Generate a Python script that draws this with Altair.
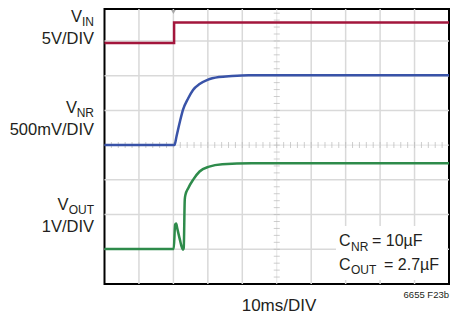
import altair as alt
import pandas as pd

# ---- data (scope divisions: x 0..10, y 0..8) ----
vin_t = [0, 2.02, 2.02, 10]
vin_v = [6.94, 6.94, 7.53, 7.53]

vnr_t = [0, 2.03, 2.09, 2.19, 2.28, 2.43, 2.57, 2.76, 2.99, 3.32, 3.70, 4.18, 10]
vnr_v = [4.0, 4.0, 4.25, 4.68, 5.02, 5.35, 5.59, 5.76, 5.88, 5.96, 5.99, 6.01, 6.01]

vout_t = [0, 2.01, 2.05, 2.08, 2.11, 2.19, 2.25, 2.28, 2.30, 2.33, 2.35, 2.43, 2.57, 2.76, 3.04, 3.42, 4.27, 10]
vout_v = [1.01, 1.01, 1.71, 1.74, 1.61, 1.27, 1.04, 0.99, 1.04, 2.43, 2.57, 2.76, 3.0, 3.24, 3.38, 3.45, 3.48, 3.48]

grid_x = [1, 2, 3, 4, 6, 7, 8, 9]
grid_y = [1, 2, 3, 5, 6, 7]
minor_x = [round(i * 0.2, 2) for i in range(1, 50)]
minor_y = [round(i * 0.2, 2) for i in range(1, 40)]

W, H = 344.5, 275
FONT = "Liberation Sans"

xs = alt.Scale(domain=[0, 10], nice=False, zero=False)
ys = alt.Scale(domain=[0, 7.92], nice=False, zero=False)


def X(f):
    return alt.X(f, type="quantitative", scale=xs, axis=None)


def Y(f):
    return alt.Y(f, type="quantitative", scale=ys, axis=None)


one = pd.DataFrame({"a": [0]})

gx = alt.Chart(pd.DataFrame({"x": grid_x})).mark_rule(color="#d9d9d9", strokeWidth=1.5).encode(x=X("x"))
gy = alt.Chart(pd.DataFrame({"y": grid_y})).mark_rule(color="#d9d9d9", strokeWidth=1.5).encode(y=Y("y"))
cx = alt.Chart(pd.DataFrame({"x": [5]})).mark_rule(color="#e4e4e4", strokeWidth=1).encode(x=X("x"))
cy = alt.Chart(pd.DataFrame({"y": [4]})).mark_rule(color="#e4e4e4", strokeWidth=1).encode(y=Y("y"))

tx = alt.Chart(pd.DataFrame({"x": minor_x, "c": [4] * len(minor_x)})).mark_tick(
    orient="vertical", size=6, thickness=1, color="#b9b9b9").encode(x=X("x"), y=Y("c"))
ty = alt.Chart(pd.DataFrame({"y": minor_y, "c": [5] * len(minor_y)})).mark_tick(
    orient="horizontal", size=6, thickness=1, color="#b9b9b9").encode(y=Y("y"), x=X("c"))

trig = alt.Chart(pd.DataFrame({"x": [2]})).mark_point(
    shape="triangle-down", filled=True, color="#a8a8a8", size=22, opacity=1).encode(x=X("x"), y=alt.value(3))

box = alt.Chart(one).mark_rect(color="white").encode(
    x=alt.value(231.5), x2=alt.value(342.5), y=alt.value(217), y2=alt.value(271))


def trace(t, v, color, interp):
    df = pd.DataFrame({"t": t, "v": v, "o": list(range(len(t)))})
    return alt.Chart(df).mark_line(color=color, strokeWidth=2.5, interpolate=interp).encode(
        x=X("t"), y=Y("v"), order="o:Q")


l_in = trace(vin_t, vin_v, "#a3163c", "linear")
l_nr = trace(vnr_t, vnr_v, "#3953a8", "monotone")
l_out = trace(vout_t, vout_v, "#2e8b4b", "monotone")

OX, OY = 104.5, 9


def txt(s, px, py, size=16.5, align="right", color="#231f20"):
    return alt.Chart(one).mark_text(
        text=s, font=FONT, fontSize=size, align=align, baseline="alphabetic", color=color).encode(
        x=alt.value(px - OX), y=alt.value(py - OY))


labels = [
    txt("V", 82, 21.5), txt("IN", 94, 26, 12),
    txt("5V/DIV", 94, 44),
    txt("V", 77, 112.5), txt("NR", 94, 117, 12),
    txt("500mV/DIV", 94, 134.5),
    txt("V", 68.5, 209.5), txt("OUT", 94, 213.5, 12),
    txt("1V/DIV", 94, 232),
    txt("10ms/DIV", 279, 311, 17, "center"),
    txt("6655 F23b", 449, 298, 9.5),
    txt("C", 339, 246, 16, "left"), txt("NR", 351, 250.7, 12, "left"), txt("= 10µF", 372, 246, 16, "left"),
    txt("C", 339, 270, 16, "left"), txt("OUT", 351, 273.5, 12, "left"), txt("= 2.7µF", 384, 270, 16, "left"),
]

chart = alt.layer(gx, gy, cx, cy, tx, ty, box, trig, l_in, l_nr, l_out, *labels).properties(
    width=W, height=H,
    autosize=alt.AutoSizeParams(type="none"),
    padding={"left": 96.5, "top": 1, "right": 1, "bottom": 30},
    background="white",
).configure_view(stroke="black", strokeWidth=2)

chart.save("out.html", embed_options={"renderer": "svg", "actions": False})
